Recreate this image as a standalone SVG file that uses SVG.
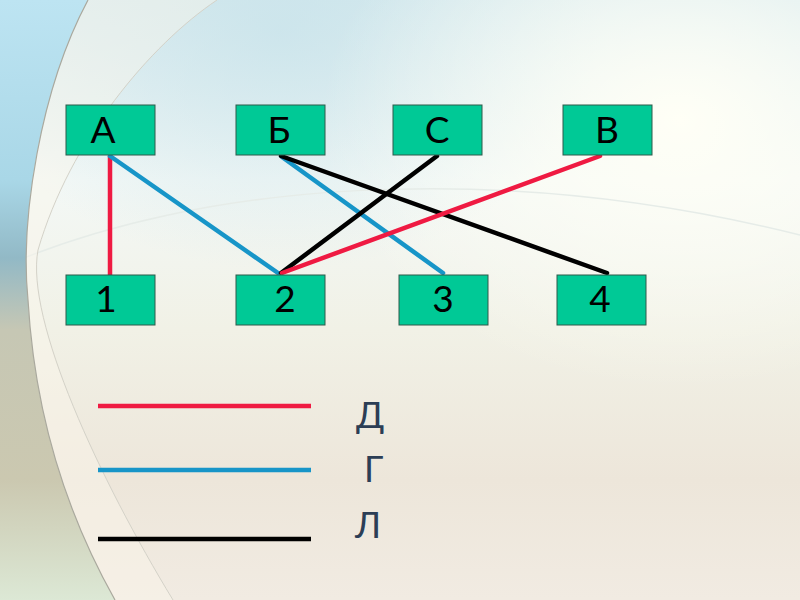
<svg xmlns="http://www.w3.org/2000/svg" width="800" height="600" viewBox="0 0 800 600">
<defs>
<linearGradient id="bg" x1="0" y1="0" x2="0" y2="1">
<stop offset="0" stop-color="#d9ebef"/>
<stop offset="0.3" stop-color="#f3f8f6"/>
<stop offset="0.55" stop-color="#f1f1e6"/>
<stop offset="0.8" stop-color="#ede6da"/>
<stop offset="1" stop-color="#f1ebe2"/>
</linearGradient>
<radialGradient id="glowR" cx="0.85" cy="0.2" r="0.45">
<stop offset="0" stop-color="#fffff6" stop-opacity="1"/>
<stop offset="1" stop-color="#fffff6" stop-opacity="0"/>
</radialGradient>
<radialGradient id="glowB" cx="0.35" cy="0.05" r="0.4">
<stop offset="0" stop-color="#c6e2ea" stop-opacity="0.7"/>
<stop offset="1" stop-color="#c6e2ea" stop-opacity="0"/>
</radialGradient>
<linearGradient id="side" x1="0" y1="0" x2="0" y2="1">
<stop offset="0" stop-color="#bde4f2"/>
<stop offset="0.3" stop-color="#a9d7e7"/>
<stop offset="0.43" stop-color="#92b9c6"/>
<stop offset="0.55" stop-color="#c6c7b4"/>
<stop offset="0.8" stop-color="#cbc8b0"/>
<stop offset="1" stop-color="#dce8d5"/>
</linearGradient>
<style>
.box{fill:#00c996;stroke:#2e5a4a;stroke-width:1}
.lbl{font-family:Lato,"Liberation Sans",sans-serif;font-size:37px;fill:#000;text-anchor:middle}
.leg{font-family:Lato,"Liberation Sans",sans-serif;font-size:36px;fill:#2c3e55}
.red{stroke:#ef1a42}
.blue{stroke:#1795c8}
.black{stroke:#000}
.con line{stroke-width:4.5;stroke-linecap:round}
#legend line{stroke-linecap:butt}
</style>
</defs>
<g id="background">
<rect x="0" y="0" width="800" height="600" fill="url(#bg)"/>
<rect x="0" y="0" width="800" height="600" fill="url(#glowB)"/>
<rect x="0" y="0" width="800" height="600" fill="url(#glowR)"/>
<path d="M0,268 C200,180 500,160 800,235" fill="none" stroke="#e6ece8" stroke-width="1.5"/>
<path d="M217,0 C150,45 70,140 38,250 C25,320 100,480 173,600 L115,600 C70,520 35,420 28,300 C20,220 40,90 88,0 Z" fill="#fbf7ea" fill-opacity="0.45"/>
<path d="M217,0 C150,45 70,140 38,250 C25,320 100,480 173,600" fill="none" stroke="#d4d2c8" stroke-width="1"/>
<path d="M0,0 L88,0 C40,90 20,220 28,300 C35,420 70,520 115,600 L0,600 Z" fill="url(#side)"/>
<path d="M88,0 C40,90 20,220 28,300 C35,420 70,520 115,600" fill="none" stroke="#aaa99e" stroke-width="1.2"/>
</g>
<g id="connectors" class="con">
<line class="red" x1="110" y1="156" x2="110" y2="275"/>
<line class="blue" x1="110" y1="156" x2="278" y2="273"/>
<line class="blue" x1="282" y1="157" x2="443" y2="273"/>
<line class="black" x1="281" y1="156" x2="607" y2="273"/>
<line class="black" x1="281" y1="273" x2="437" y2="156"/>
<line class="red" x1="282" y1="273" x2="600" y2="156"/>
</g>
<g id="node-A"><rect class="box" x="66" y="105" width="89" height="50"/><text class="lbl" x="103" y="143">А</text></g>
<g id="node-B6"><rect class="box" x="236" y="105" width="89" height="50"/><text class="lbl" x="279" y="143">Б</text></g>
<g id="node-C"><rect class="box" x="393" y="105" width="89" height="50"/><text class="lbl" x="437" y="143">С</text></g>
<g id="node-V"><rect class="box" x="563" y="105" width="89" height="50"/><text class="lbl" x="607" y="143">В</text></g>
<g id="node-1"><rect class="box" x="66" y="275" width="89" height="50"/><text class="lbl" x="106" y="312">1</text></g>
<g id="node-2"><rect class="box" x="236" y="275" width="89" height="50"/><text class="lbl" x="285" y="312">2</text></g>
<g id="node-3"><rect class="box" x="399" y="275" width="89" height="50"/><text class="lbl" x="443" y="312">3</text></g>
<g id="node-4"><rect class="box" x="557" y="275" width="89" height="50"/><text class="lbl" x="600" y="312">4</text></g>
<g id="legend" class="con">
<line class="red" x1="98" y1="406" x2="311" y2="406"/>
<line class="blue" x1="98" y1="470" x2="311" y2="470"/>
<line class="black" x1="98" y1="539" x2="311" y2="539"/>
<text class="leg" x="356" y="428">Д</text>
<text class="leg" x="364" y="482">Г</text>
<text class="leg" x="355" y="538">Л</text>
</g>
</svg>
